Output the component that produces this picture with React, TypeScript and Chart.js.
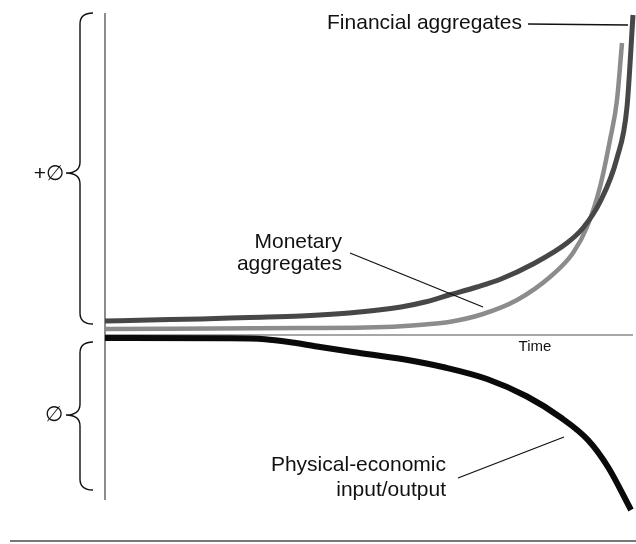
import React, { useEffect, useRef } from "react";
import { Chart, registerables } from "chart.js";

Chart.register(...registerables);

// Time (arbitrary units) and values (arbitrary units, 0 = the time axis)
const timeFinancial = [0, 11, 24, 36, 49, 61, 74, 80, 86, 93, 99, 107, 115.5, 119.5, 123.75, 128, 130.5, 132];
const financialAggregates = [2.8, 3.0, 3.2, 3.5, 3.8, 4.4, 5.6, 6.6, 8.0, 9.6, 11.2, 14.2, 18.4, 21.4, 26.6, 35.4, 45.6, 64];

const timeMonetary = [0, 49, 65, 74, 80, 86, 94.5, 103, 111.25, 117, 120.5, 123.75, 126.25, 128, 129.25];
const monetaryAggregates = [1.2, 1.4, 1.5, 1.75, 2.1, 2.6, 4.2, 7, 11.6, 16.4, 21.6, 29.6, 39, 47, 58.4];

const timePhysical = [0, 30, 40, 46, 53, 62, 75, 85, 95.5, 105.5, 113.75, 120.75, 125.75, 131.5];
const physicalOutput = [-0.6, -0.65, -0.85, -1.4, -2.3, -3.4, -4.9, -6.5, -8.8, -12.3, -16.4, -21, -26.4, -35];

const labels = {
  financial: "Financial aggregates",
  monetary: ["Monetary", "aggregates"],
  physical: ["Physical-economic", "input/output"],
  time: "Time",
  plus: "+\u2205",
  zero: "\u2205",
};

const FONT = "'Liberation Sans', Arial, Helvetica, sans-serif";

function pairs(xs: number[], ys: number[]) {
  return xs.map((x, i) => ({ x, y: ys[i] }));
}

function drawBrace(ctx: CanvasRenderingContext2D, x: number, yTop: number, yBot: number, tipX: number, curlX: number, yMid: number) {
  const r = 11;
  ctx.beginPath();
  ctx.moveTo(curlX, yTop);
  ctx.quadraticCurveTo(x, yTop, x, yTop + r);
  ctx.lineTo(x, yMid - r);
  ctx.quadraticCurveTo(x, yMid, tipX, yMid);
  ctx.quadraticCurveTo(x, yMid, x, yMid + r);
  ctx.lineTo(x, yBot - r);
  ctx.quadraticCurveTo(x, yBot, curlX, yBot);
  ctx.stroke();
}

const decorPlugin = {
  id: "decor",
  beforeDatasetsDraw(chart: any) {
    const ctx: CanvasRenderingContext2D = chart.ctx;
    const xs = chart.scales.x;
    const ys = chart.scales.y;
    const x0 = xs.getPixelForValue(0);
    const xEnd = xs.getPixelForValue(132);
    const y0 = ys.getPixelForValue(0);
    ctx.save();
    // time axis
    ctx.strokeStyle = "#8a8a8a";
    ctx.lineWidth = 1.5;
    ctx.beginPath();
    ctx.moveTo(x0, y0);
    ctx.lineTo(xEnd, y0);
    ctx.stroke();
    // vertical axis
    ctx.strokeStyle = "#666";
    ctx.beginPath();
    ctx.moveTo(x0, 13);
    ctx.lineTo(x0, ys.getPixelForValue(-33));
    ctx.stroke();
    ctx.restore();
  },
  afterDatasetsDraw(chart: any) {
    const ctx: CanvasRenderingContext2D = chart.ctx;
    ctx.save();
    // braces
    ctx.strokeStyle = "#111";
    ctx.lineWidth = 1.4;
    drawBrace(ctx, 80, 13, 324, 66, 93, 173);
    drawBrace(ctx, 80, 342, 490, 66, 93, 415);

    ctx.fillStyle = "#111";
    ctx.textBaseline = "middle";
    ctx.font = `21px ${FONT}`;
    ctx.textAlign = "right";
    ctx.fillText(labels.plus, 64, 174);
    ctx.textAlign = "center";
    ctx.fillText(labels.zero, 54, 415);

    // Financial aggregates
    ctx.textAlign = "right";
    ctx.fillText(labels.financial, 522, 23);
    ctx.lineWidth = 1.3;
    ctx.beginPath();
    ctx.moveTo(528, 24);
    ctx.lineTo(628, 25);
    ctx.stroke();

    // Monetary aggregates
    ctx.fillText(labels.monetary[0], 342, 242);
    ctx.fillText(labels.monetary[1], 342, 264);
    ctx.beginPath();
    ctx.moveTo(350, 253);
    ctx.lineTo(483, 307);
    ctx.stroke();

    // Physical-economic
    ctx.fillText(labels.physical[0], 446, 465);
    ctx.fillText(labels.physical[1], 446, 490);
    ctx.beginPath();
    ctx.moveTo(458, 478);
    ctx.lineTo(564, 437);
    ctx.stroke();

    // Time
    ctx.font = `15px ${FONT}`;
    ctx.textAlign = "center";
    ctx.fillText(labels.time, 535, 347);

    // bottom rule
    ctx.strokeStyle = "#777";
    ctx.lineWidth = 2;
    ctx.beginPath();
    ctx.moveTo(10, 541);
    ctx.lineTo(636, 541);
    ctx.stroke();
    ctx.restore();
  },
};

export default function App() {
  const ref = useRef<HTMLCanvasElement | null>(null);
  useEffect(() => {
    if (!ref.current) return;
    const chart = new Chart(ref.current, {
      type: "line",
      data: {
        datasets: [
          {
            label: "Financial aggregates",
            data: pairs(timeFinancial, financialAggregates),
            borderColor: "#474747",
            borderWidth: 5,
            pointRadius: 0,
            cubicInterpolationMode: "monotone",
            fill: false,
            clip: false as any,
          },
          {
            label: "Monetary aggregates",
            data: pairs(timeMonetary, monetaryAggregates),
            borderColor: "#8c8c8c",
            borderWidth: 4.5,
            pointRadius: 0,
            cubicInterpolationMode: "monotone",
            fill: false,
            clip: false as any,
          },
          {
            label: "Physical-economic input/output",
            data: pairs(timePhysical, physicalOutput),
            borderColor: "#0a0a0a",
            borderWidth: 6,
            pointRadius: 0,
            cubicInterpolationMode: "monotone",
            fill: false,
            clip: false as any,
          },
        ],
      },
      options: {
        responsive: false,
        animation: false,
        layout: { padding: { left: 105, right: 3, top: 13, bottom: 29 } },
        plugins: { legend: { display: false }, tooltip: { enabled: false } },
        scales: {
          x: { type: "linear", min: 0, max: 132, display: false },
          y: { type: "linear", min: -36, max: 64.4, display: false },
        },
      },
      plugins: [decorPlugin],
    });
    return () => chart.destroy();
  }, []);
  return (
    <div style={{ position: "absolute", left: 0, top: 0, width: 636, height: 544, background: "#fff" }}>
      <canvas ref={ref} width={636} height={544} style={{ display: "block" }} />
    </div>
  );
}
